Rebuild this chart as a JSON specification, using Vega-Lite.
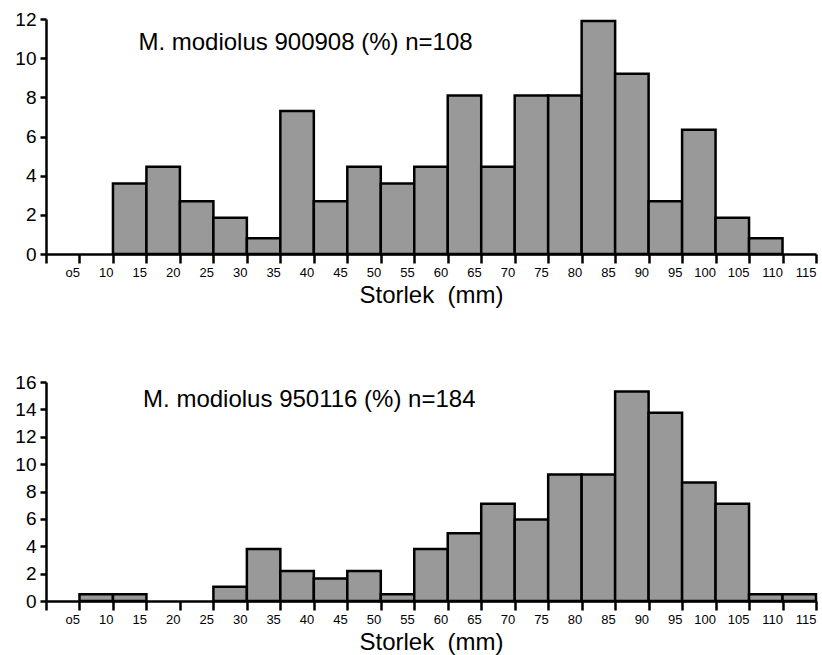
{
  "$schema": "https://vega.github.io/schema/vega-lite/v6.json",
  "padding": {"left": 14, "top": 10, "right": 5, "bottom": 2},
  "spacing": 66,
  "config": {
    "view": {"stroke": null},
    "font": "Liberation Sans",
    "axis": {
      "grid": false,
      "domainColor": "black",
      "domainWidth": 2.5,
      "tickColor": "black",
      "tickWidth": 2.5,
      "labelColor": "black",
      "titleColor": "black",
      "labelFont": "Liberation Sans",
      "titleFont": "Liberation Sans"
    },
    "axisX": {
      "tickSize": 9,
      "labelFontSize": 13,
      "labelAlign": "right",
      "labelDx": 1,
      "labelPadding": 3,
      "labelFlush": false,
      "labelOverlap": false,
      "titleFontSize": 24,
      "titleFontWeight": "normal",
      "titlePadding": 4
    },
    "axisY": {
      "tickSize": 6,
      "labelFontSize": 19,
      "labelPadding": 4,
      "labelOverlap": false,
      "title": null
    }
  },
  "vconcat": [
    {
      "width": 770,
      "height": 235,
      "layer": [
        {
          "data": {"values": [
            {"start": 10, "end": 15, "pct": 3.6},
            {"start": 15, "end": 20, "pct": 4.45},
            {"start": 20, "end": 25, "pct": 2.7},
            {"start": 25, "end": 30, "pct": 1.85},
            {"start": 30, "end": 35, "pct": 0.8},
            {"start": 35, "end": 40, "pct": 7.3},
            {"start": 40, "end": 45, "pct": 2.7},
            {"start": 45, "end": 50, "pct": 4.45},
            {"start": 50, "end": 55, "pct": 3.6},
            {"start": 55, "end": 60, "pct": 4.45},
            {"start": 60, "end": 65, "pct": 8.1},
            {"start": 65, "end": 70, "pct": 4.45},
            {"start": 70, "end": 75, "pct": 8.1},
            {"start": 75, "end": 80, "pct": 8.1},
            {"start": 80, "end": 85, "pct": 11.9},
            {"start": 85, "end": 90, "pct": 9.2},
            {"start": 90, "end": 95, "pct": 2.7},
            {"start": 95, "end": 100, "pct": 6.35},
            {"start": 100, "end": 105, "pct": 1.85},
            {"start": 105, "end": 110, "pct": 0.8}
          ]},
          "mark": {"type": "bar", "fill": "#999999", "stroke": "black", "strokeWidth": 2.5},
          "encoding": {
            "x": {
              "field": "start", "type": "quantitative",
              "scale": {"domain": [0, 115], "nice": false, "zero": true},
              "axis": {
                "values": [0, 5, 10, 15, 20, 25, 30, 35, 40, 45, 50, 55, 60, 65, 70, 75, 80, 85, 90, 95, 100, 105, 110, 115],
                "labelExpr": "datum.value == 0 ? '' : datum.value == 5 ? 'o5' : datum.label",
                "title": "Storlek \u00a0(mm)"
              }
            },
            "x2": {"field": "end"},
            "y": {
              "field": "pct", "type": "quantitative",
              "scale": {"domain": [0, 12], "nice": false},
              "axis": {"values": [0, 2, 4, 6, 8, 10, 12]}
            },
            "y2": {"datum": 0}
          }
        },
        {
          "data": {"values": [{}]},
          "mark": {"type": "text", "text": "M. modiolus 900908 (%) n=108", "fontSize": 24, "font": "Liberation Sans", "align": "left", "baseline": "alphabetic", "color": "black"},
          "encoding": {
            "x": {
              "datum": 13.8, "type": "quantitative",
              "scale": {"domain": [0, 115], "nice": false, "zero": true},
              "axis": {
                "values": [0, 5, 10, 15, 20, 25, 30, 35, 40, 45, 50, 55, 60, 65, 70, 75, 80, 85, 90, 95, 100, 105, 110, 115],
                "labelExpr": "datum.value == 0 ? '' : datum.value == 5 ? 'o5' : datum.label",
                "title": "Storlek \u00a0(mm)"
              }
            },
            "y": {
              "datum": 10.4, "type": "quantitative",
              "scale": {"domain": [0, 12], "nice": false},
              "axis": {"values": [0, 2, 4, 6, 8, 10, 12]}
            }
          }
        }
      ]
    },
    {
      "width": 770,
      "height": 219,
      "layer": [
        {
          "data": {"values": [
            {"start": 5, "end": 10, "pct": 0.5},
            {"start": 10, "end": 15, "pct": 0.5},
            {"start": 25, "end": 30, "pct": 1.05},
            {"start": 30, "end": 35, "pct": 3.8},
            {"start": 35, "end": 40, "pct": 2.2},
            {"start": 40, "end": 45, "pct": 1.65},
            {"start": 45, "end": 50, "pct": 2.2},
            {"start": 50, "end": 55, "pct": 0.5},
            {"start": 55, "end": 60, "pct": 3.8},
            {"start": 60, "end": 65, "pct": 4.95},
            {"start": 65, "end": 70, "pct": 7.1},
            {"start": 70, "end": 75, "pct": 5.95},
            {"start": 75, "end": 80, "pct": 9.25},
            {"start": 80, "end": 85, "pct": 9.25},
            {"start": 85, "end": 90, "pct": 15.3},
            {"start": 90, "end": 95, "pct": 13.75},
            {"start": 95, "end": 100, "pct": 8.65},
            {"start": 100, "end": 105, "pct": 7.1},
            {"start": 105, "end": 110, "pct": 0.5},
            {"start": 110, "end": 115, "pct": 0.5}
          ]},
          "mark": {"type": "bar", "fill": "#999999", "stroke": "black", "strokeWidth": 2.5},
          "encoding": {
            "x": {
              "field": "start", "type": "quantitative",
              "scale": {"domain": [0, 115], "nice": false, "zero": true},
              "axis": {
                "values": [0, 5, 10, 15, 20, 25, 30, 35, 40, 45, 50, 55, 60, 65, 70, 75, 80, 85, 90, 95, 100, 105, 110, 115],
                "labelExpr": "datum.value == 0 ? '' : datum.value == 5 ? 'o5' : datum.label",
                "title": "Storlek \u00a0(mm)"
              }
            },
            "x2": {"field": "end"},
            "y": {
              "field": "pct", "type": "quantitative",
              "scale": {"domain": [0, 16], "nice": false},
              "axis": {"values": [0, 2, 4, 6, 8, 10, 12, 14, 16]}
            },
            "y2": {"datum": 0}
          }
        },
        {
          "data": {"values": [{}]},
          "mark": {"type": "text", "text": "M. modiolus 950116 (%) n=184", "fontSize": 24, "font": "Liberation Sans", "align": "left", "baseline": "alphabetic", "color": "black"},
          "encoding": {
            "x": {
              "datum": 14.5, "type": "quantitative",
              "scale": {"domain": [0, 115], "nice": false, "zero": true},
              "axis": {
                "values": [0, 5, 10, 15, 20, 25, 30, 35, 40, 45, 50, 55, 60, 65, 70, 75, 80, 85, 90, 95, 100, 105, 110, 115],
                "labelExpr": "datum.value == 0 ? '' : datum.value == 5 ? 'o5' : datum.label",
                "title": "Storlek \u00a0(mm)"
              }
            },
            "y": {
              "datum": 14.2, "type": "quantitative",
              "scale": {"domain": [0, 16], "nice": false},
              "axis": {"values": [0, 2, 4, 6, 8, 10, 12, 14, 16]}
            }
          }
        }
      ]
    }
  ]
}
